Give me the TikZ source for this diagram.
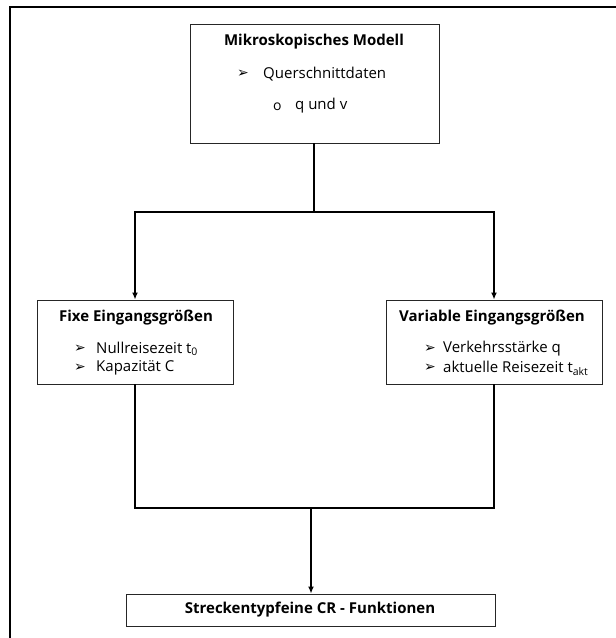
\documentclass[tikz,border=0pt]{standalone}
\usepackage{fontspec}
\setmainfont{Open Sans}
\newfontfamily\symfont{DejaVu Sans}
\usetikzlibrary{arrows.meta}

\tikzset{
  box/.style={draw=black!85,line width=0.9pt,rectangle,inner sep=0pt},
  title/.style={font=\bfseries\fontsize{15}{18}\selectfont,inner sep=0pt},
  item/.style={font=\fontsize{15}{18}\selectfont,inner sep=0pt,anchor=west},
  bullet/.style={font=\symfont\fontsize{14}{16}\selectfont,inner sep=0pt},
  link/.style={line width=1.4pt},
  linkarrow/.style={line width=1.4pt,-{Latex[length=7pt,width=6pt]}}
}

\begin{document}
\begin{tikzpicture}[x=1pt,y=-1pt]
\useasboundingbox (0,0) rectangle (616,638);
% frame
\draw[line width=1.8pt] (616,7) -- (10,7) -- (10,638);

% boxes
\node[box,minimum width=249pt,minimum height=119pt] (modell) at (314.5,83.5) {};
\node[box,minimum width=196pt,minimum height=84pt] (fixe) at (135,342) {};
\node[box,minimum width=216pt,minimum height=84pt] (variabel) at (494,342) {};
\node[box,minimum width=369pt,minimum height=32pt] (cr) at (310.5,610) {};

% texts
\node[title] (modelltitle) at (314,42) {Mikroskopisches Modell};
\node[bullet] (m1) at (243,74) {➢};
\node[item] (querschnitt) at (263,74) {Querschnittdaten};
\node[item,font=\fontsize{14}{16}\selectfont] (m2) at (273,107) {o};
\node[item] (qv) at (295,106) {q und v};

\node[title] (fixetitle) at (136,318) {Fixe Eingangsgrößen};
\node[bullet] (f1) at (80,349) {➢};
\node[item] (null) at (96,349) {Nullreisezeit t\textsubscript{0}};
\node[bullet] (f2) at (80,368) {➢};
\node[item] (kap) at (96,368) {Kapazität C};

\node[title] (vartitle) at (492,318) {Variable Eingangsgrößen};
\node[bullet] (v1) at (430,349) {➢};
\node[item] (vs) at (443,349) {Verkehrsstärke q};
\node[bullet] (v2) at (430,368) {➢};
\node[item] (rz) at (443,368) {aktuelle Reisezeit t\textsubscript{akt}};

\node[title] (crtitle) at (310,610) {Streckentypfeine CR - Funktionen};

% connectors
\coordinate (split) at (314,212);
\coordinate (merge) at (311,508);
\draw[link] (modell.south -| split) -- (split);
\draw[linkarrow] (split) -| (fixe.north);
\draw[linkarrow] (split) -| (variabel.north);
\draw[link] (fixe.south) |- (merge);
\draw[link] (variabel.south) |- (merge);
\draw[linkarrow] (merge) -- (cr.north -| merge);
\end{tikzpicture}
\end{document}
